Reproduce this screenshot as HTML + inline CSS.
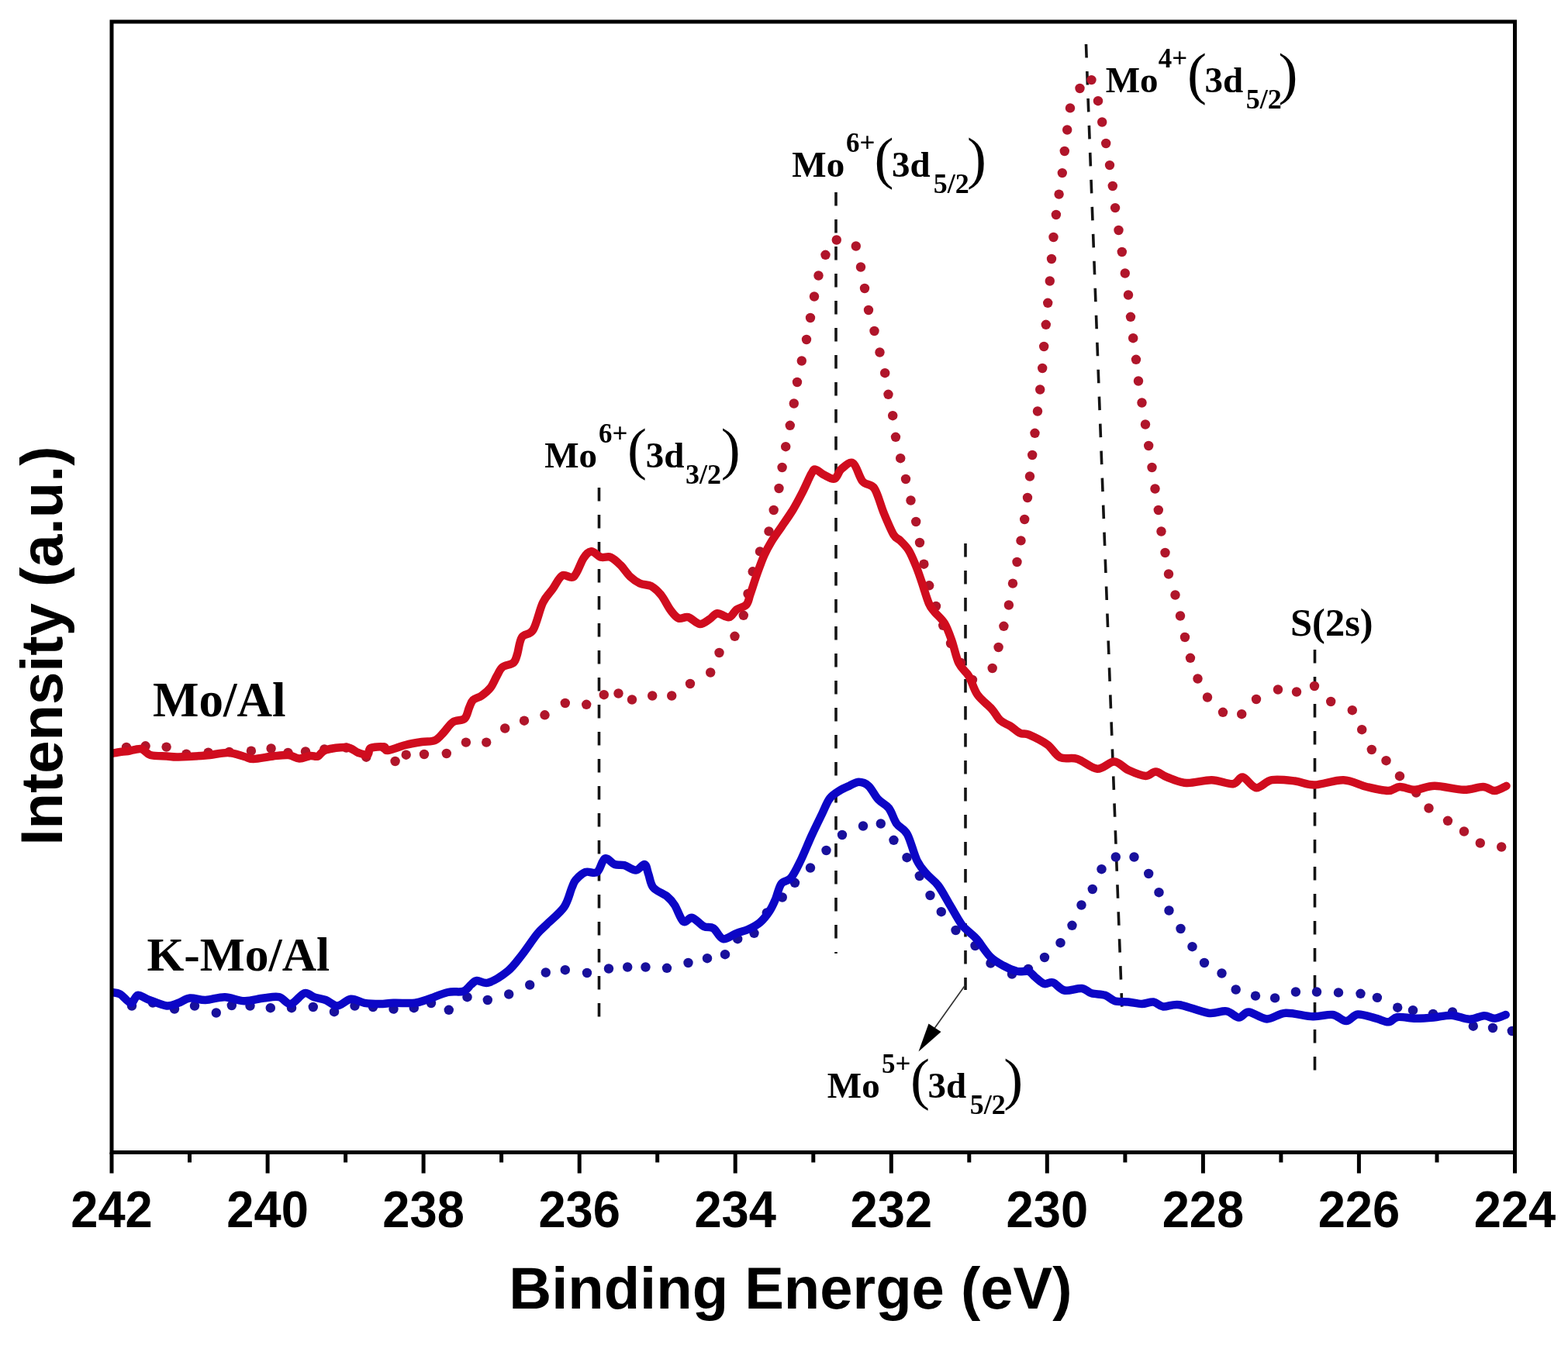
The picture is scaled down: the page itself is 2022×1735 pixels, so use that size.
<!DOCTYPE html>
<html><head><meta charset="utf-8"><title>XPS Mo 3d</title>
<style>html,body{margin:0;padding:0;background:#fff;}body{width:2022px;height:1735px;overflow:hidden;}svg{display:block;}.ax{font-family:"Liberation Sans",Arial,sans-serif;font-weight:bold;fill:#000;}.tm{font-family:"Liberation Serif","Times New Roman",serif;font-weight:bold;fill:#000;}.tr{font-family:"Liberation Serif","Times New Roman",serif;font-weight:normal;fill:#000;}</style></head><body>
<svg width="2022" height="1735" viewBox="0 0 2022 1735">
<rect x="0" y="0" width="2022" height="1735" fill="#fff"/>
<g stroke="#141414" stroke-width="3.6" stroke-dasharray="17.5 17.5" fill="none">
<line x1="772.5" y1="629" x2="772.5" y2="1315"/>
<line x1="1078" y1="248" x2="1078" y2="1230"/>
<line x1="1245" y1="701" x2="1245" y2="1277"/>
<line x1="1400.5" y1="57" x2="1447" y2="1304"/>
<line x1="1695.5" y1="838" x2="1695.5" y2="1381"/>
</g>
<line x1="1244.5" y1="1271" x2="1204" y2="1328" stroke="#333" stroke-width="1.7"/>
<polygon points="1184.5,1356.5 1197.5,1320.5 1213.5,1331" fill="#000"/>
<defs><clipPath id="pc"><rect x="143" y="29" width="1810" height="1456"/></clipPath></defs>
<g clip-path="url(#pc)">
<g fill="#b0152a">
<circle cx="163" cy="964" r="6.2"/>
<circle cx="187.6" cy="962.3" r="6.2"/>
<circle cx="214.6" cy="963.6" r="6.2"/>
<circle cx="240.3" cy="972.6" r="6.2"/>
<circle cx="268.6" cy="970.6" r="6.2"/>
<circle cx="295.6" cy="970" r="6.2"/>
<circle cx="323.9" cy="968.7" r="6.2"/>
<circle cx="349.6" cy="965.5" r="6.2"/>
<circle cx="371.4" cy="971" r="6.2"/>
<circle cx="394" cy="969.4" r="6.2"/>
<circle cx="418.3" cy="966.4" r="6.2"/>
<circle cx="446.6" cy="964.5" r="6.2"/>
<circle cx="472.3" cy="976.7" r="6.2"/>
<circle cx="495.4" cy="964.5" r="6.2"/>
<circle cx="509.6" cy="982" r="6.2"/>
<circle cx="523.7" cy="973.7" r="6.2"/>
<circle cx="547" cy="973" r="6.2"/>
<circle cx="575.8" cy="972" r="6.2"/>
<circle cx="600.9" cy="957.6" r="6.2"/>
<circle cx="627.2" cy="957.6" r="6.2"/>
<circle cx="651.2" cy="939.5" r="6.2"/>
<circle cx="676" cy="929.7" r="6.2"/>
<circle cx="702.5" cy="922.3" r="6.2"/>
<circle cx="728.8" cy="907" r="6.2"/>
<circle cx="756.2" cy="908.8" r="6.2"/>
<circle cx="778.8" cy="896.2" r="6.2"/>
<circle cx="797.5" cy="894.5" r="6.2"/>
<circle cx="815" cy="902.5" r="6.2"/>
<circle cx="841.2" cy="897.5" r="6.2"/>
<circle cx="866.2" cy="897.5" r="6.2"/>
<circle cx="890" cy="882" r="6.2"/>
<circle cx="916.2" cy="867.5" r="6.2"/>
<circle cx="927.5" cy="842" r="6.2"/>
<circle cx="947.5" cy="820.8" r="6.2"/>
<circle cx="958.8" cy="793.8" r="6.2"/>
<circle cx="964.5" cy="766" r="6.2"/>
<circle cx="970.7" cy="737.3" r="6.2"/>
<circle cx="980" cy="711.4" r="6.2"/>
<circle cx="991.5" cy="685.4" r="6.2"/>
<circle cx="997.7" cy="658" r="6.2"/>
<circle cx="1004.5" cy="630" r="6.2"/>
<circle cx="1008.6" cy="603" r="6.2"/>
<circle cx="1013.2" cy="576.2" r="6.2"/>
<circle cx="1018.8" cy="548.8" r="6.2"/>
<circle cx="1023.8" cy="520.5" r="6.2"/>
<circle cx="1028" cy="493" r="6.2"/>
<circle cx="1033.8" cy="465.5" r="6.2"/>
<circle cx="1040" cy="438" r="6.2"/>
<circle cx="1045" cy="410" r="6.2"/>
<circle cx="1050" cy="382.5" r="6.2"/>
<circle cx="1055.5" cy="355.5" r="6.2"/>
<circle cx="1064.5" cy="328.8" r="6.2"/>
<circle cx="1078.8" cy="309.5" r="6.2"/>
<circle cx="1103.8" cy="317.5" r="6.2"/>
<circle cx="1110" cy="344.5" r="6.2"/>
<circle cx="1115" cy="372" r="6.2"/>
<circle cx="1120" cy="400" r="6.2"/>
<circle cx="1127.5" cy="427" r="6.2"/>
<circle cx="1134.5" cy="454.5" r="6.2"/>
<circle cx="1141.2" cy="481.2" r="6.2"/>
<circle cx="1145.5" cy="508.8" r="6.2"/>
<circle cx="1151.2" cy="536.2" r="6.2"/>
<circle cx="1155" cy="563.8" r="6.2"/>
<circle cx="1161.2" cy="591.2" r="6.2"/>
<circle cx="1168" cy="618" r="6.2"/>
<circle cx="1174.5" cy="645.5" r="6.2"/>
<circle cx="1181.2" cy="673" r="6.2"/>
<circle cx="1186" cy="700" r="6.2"/>
<circle cx="1191.4" cy="727.7" r="6.2"/>
<circle cx="1198.2" cy="755.3" r="6.2"/>
<circle cx="1207" cy="782" r="6.2"/>
<circle cx="1216.2" cy="806.8" r="6.2"/>
<circle cx="1226" cy="830" r="6.2"/>
<circle cx="1239" cy="855" r="6.2"/>
<circle cx="1254" cy="877" r="6.2"/>
<circle cx="1279.7" cy="862" r="6.2"/>
<circle cx="1287.6" cy="835" r="6.2"/>
<circle cx="1294.4" cy="807.8" r="6.2"/>
<circle cx="1300.9" cy="780.5" r="6.2"/>
<circle cx="1306" cy="752.6" r="6.2"/>
<circle cx="1311.5" cy="725" r="6.2"/>
<circle cx="1316.5" cy="697.4" r="6.2"/>
<circle cx="1321.2" cy="670" r="6.2"/>
<circle cx="1325" cy="642" r="6.2"/>
<circle cx="1328" cy="614.5" r="6.2"/>
<circle cx="1331.2" cy="587" r="6.2"/>
<circle cx="1334.5" cy="558.8" r="6.2"/>
<circle cx="1338" cy="530.5" r="6.2"/>
<circle cx="1341.2" cy="502.5" r="6.2"/>
<circle cx="1344.2" cy="475" r="6.2"/>
<circle cx="1346.2" cy="447" r="6.2"/>
<circle cx="1348.8" cy="418.8" r="6.2"/>
<circle cx="1351.2" cy="390.8" r="6.2"/>
<circle cx="1353.8" cy="362.5" r="6.2"/>
<circle cx="1356" cy="334" r="6.2"/>
<circle cx="1358.5" cy="306" r="6.2"/>
<circle cx="1361.9" cy="277" r="6.2"/>
<circle cx="1365.6" cy="250.6" r="6.2"/>
<circle cx="1369.8" cy="223.1" r="6.2"/>
<circle cx="1372.8" cy="195" r="6.2"/>
<circle cx="1376.2" cy="167.5" r="6.2"/>
<circle cx="1380" cy="139.4" r="6.2"/>
<circle cx="1392.5" cy="114" r="6.2"/>
<circle cx="1407.5" cy="103.1" r="6.2"/>
<circle cx="1416" cy="130.2" r="6.2"/>
<circle cx="1421.2" cy="157.5" r="6.2"/>
<circle cx="1426.2" cy="185" r="6.2"/>
<circle cx="1431" cy="213.1" r="6.2"/>
<circle cx="1434.8" cy="240" r="6.2"/>
<circle cx="1438.1" cy="268.1" r="6.2"/>
<circle cx="1442.5" cy="297" r="6.2"/>
<circle cx="1446.8" cy="325" r="6.2"/>
<circle cx="1450.8" cy="352.5" r="6.2"/>
<circle cx="1455" cy="380.5" r="6.2"/>
<circle cx="1458" cy="408.8" r="6.2"/>
<circle cx="1461.2" cy="436.2" r="6.2"/>
<circle cx="1465" cy="463.8" r="6.2"/>
<circle cx="1468" cy="491.5" r="6.2"/>
<circle cx="1472.5" cy="519.5" r="6.2"/>
<circle cx="1477" cy="547.5" r="6.2"/>
<circle cx="1481.2" cy="575" r="6.2"/>
<circle cx="1485.5" cy="603" r="6.2"/>
<circle cx="1489.5" cy="630.5" r="6.2"/>
<circle cx="1493.8" cy="658" r="6.2"/>
<circle cx="1497.5" cy="685.5" r="6.2"/>
<circle cx="1502.5" cy="713" r="6.2"/>
<circle cx="1507" cy="740.5" r="6.2"/>
<circle cx="1515.5" cy="767.5" r="6.2"/>
<circle cx="1522" cy="794.5" r="6.2"/>
<circle cx="1528" cy="822" r="6.2"/>
<circle cx="1535" cy="848.8" r="6.2"/>
<circle cx="1544.5" cy="875.5" r="6.2"/>
<circle cx="1557" cy="899.5" r="6.2"/>
<circle cx="1577" cy="918.8" r="6.2"/>
<circle cx="1601.2" cy="921.2" r="6.2"/>
<circle cx="1620" cy="902" r="6.2"/>
<circle cx="1648" cy="889.5" r="6.2"/>
<circle cx="1672" cy="892.5" r="6.2"/>
<circle cx="1695" cy="885" r="6.2"/>
<circle cx="1716.2" cy="905" r="6.2"/>
<circle cx="1743.8" cy="916.2" r="6.2"/>
<circle cx="1756.2" cy="941.2" r="6.2"/>
<circle cx="1768.8" cy="967" r="6.2"/>
<circle cx="1787.5" cy="981.2" r="6.2"/>
<circle cx="1805" cy="1001.2" r="6.2"/>
<circle cx="1826.2" cy="1022.5" r="6.2"/>
<circle cx="1842.5" cy="1042.5" r="6.2"/>
<circle cx="1867" cy="1058.8" r="6.2"/>
<circle cx="1888" cy="1072.5" r="6.2"/>
<circle cx="1908.8" cy="1087.5" r="6.2"/>
<circle cx="1936.2" cy="1092.5" r="6.2"/>
</g>
<path d="M144,972C145.8,971.7 151.5,970.5 155,970C158.5,969.5 160.5,969.7 165,969C169.5,968.3 177.2,965.2 182,966C186.8,966.8 188.5,972.4 194,974C199.5,975.6 209,975.1 215,975.5C221,975.9 221.7,976.7 230,976.5C238.3,976.3 254.3,975.4 265,974.5C275.7,973.6 285.7,970.8 294,971C302.3,971.2 309.5,974.7 315,976C320.5,977.3 320.8,979.1 327,979C333.2,978.9 344.5,976.3 352,975.5C359.5,974.7 366.3,973.5 372,974C377.7,974.5 381.3,978.3 386,978.5C390.7,978.7 396,975.5 400,975C404,974.5 406.7,976.8 410,975.5C413.3,974.2 413.8,969.4 420,967.5C426.2,965.6 440,963.4 447,964C454,964.6 457.5,969.4 462,971C466.5,972.6 471.3,974.5 474,973.5C476.7,972.5 474.5,966.7 478,965C481.5,963.3 491.3,963 495,963.5C498.7,964 495.3,968.4 500,968C504.7,967.6 515.7,962.8 523,961C530.3,959.2 537.7,958 544,957C550.3,956 556.3,957 561,955C565.7,953 568.2,948.9 572,945C575.8,941.1 579.5,934.5 584,931.5C588.5,928.5 595.5,930.1 599,927C602.5,923.9 603.2,917 605,913C606.8,909 607.3,905.6 610,903C612.7,900.4 617.2,900.2 621,897.5C624.8,894.8 629.3,891.2 632.6,887C635.9,882.8 638.1,876.4 640.7,872C643.3,867.6 644.5,863.3 648,860.5C651.5,857.7 658.8,857.8 662,855C665.2,852.2 665.2,849.5 667,844C668.8,838.5 669.6,827.2 673,822C676.4,816.8 683,819.9 687.5,812.5C692,805.1 695.8,786.2 700,777.5C704.2,768.8 708.3,765.8 712.5,760C716.7,754.2 720.4,745.2 725,742.5C729.6,739.8 735.4,747.5 740,743.8C744.6,740 748.8,725.4 752.5,720C756.2,714.6 758.8,711.5 762.5,711.2C766.2,711 770.8,717.5 775,718.8C779.2,720 783.3,717.1 787.5,718.8C791.7,720.4 795.8,724.6 800,728.8C804.2,732.9 808.3,739.8 812.5,743.8C816.7,747.7 820.4,750.4 825,752.5C829.6,754.6 835.4,753.8 840,756.2C844.6,758.8 848.3,762.3 852.5,767.5C856.7,772.7 861.2,782.5 865,787.5C868.8,792.5 871.2,796 875,797.5C878.8,799 882.9,795 887.5,796.2C892.1,797.5 897.9,804.6 902.5,805C907.1,805.4 911.2,801 915,798.8C918.8,796.5 920.8,791.7 925,791.2C929.2,790.8 935.8,797.1 940,796.2C944.2,795.4 946.2,789 950,786.2C953.8,783.5 959.6,783.3 962.5,780C965.4,776.7 965.2,773.4 967.6,766.4C970,759.4 974,746.6 977,738.3C980,730 982.4,723.2 985.3,716.6C988.2,710 990.8,705.1 994.6,698.9C998.4,692.7 1003.3,686.1 1008,679.2C1012.7,672.3 1018.1,664.8 1022.6,657.4C1027.1,650 1031,642.4 1035,634.6C1039,626.8 1043.7,615.5 1046.5,610.7C1049.3,605.9 1049,605.3 1051.7,605.6C1054.4,605.9 1058.4,610.5 1062.5,612.5C1066.6,614.5 1072.5,618.8 1076.2,617.5C1080,616.2 1081,608.3 1085,605C1089,601.7 1095.4,594.8 1100,597.5C1104.6,600.2 1107.9,615.8 1112.5,621.2C1117.1,626.7 1122.9,623.1 1127.5,630C1132.1,636.9 1135.8,652.5 1140,662.5C1144.2,672.5 1149,684.2 1152.5,690C1156,695.8 1157.8,694 1161,697.4C1164.2,700.8 1168.6,704.7 1172,710.2C1175.4,715.7 1178.5,723.8 1181.3,730.5C1184.1,737.2 1185.8,742.7 1188.6,750.7C1191.3,758.7 1195,771.8 1197.8,778.3C1200.6,784.8 1201.8,785.1 1205.2,789.4C1208.6,793.7 1214.3,797.9 1218,804C1221.7,810.1 1224.2,817.6 1227.3,826.2C1230.4,834.8 1232.8,847.9 1236.5,855.6C1240.2,863.3 1245.4,865.5 1249.4,872.2C1253.4,878.9 1255.5,889 1260.4,896C1265.3,903 1273.9,909 1278.8,914.5C1283.7,920 1285.8,925.5 1289.8,929.2C1293.8,932.9 1298.4,933.8 1302.7,936.5C1307,939.2 1311.6,943.9 1315.6,945.7C1319.6,947.6 1320.8,945.1 1326.6,947.6C1332.4,950.1 1343.8,955.6 1350.6,960.5C1357.3,965.4 1360.7,973.9 1367.1,977C1373.5,980.1 1381.2,976.4 1389.2,978.9C1397.2,981.4 1407,991.1 1415,991.7C1423,992.3 1430.3,982.2 1437,982.5C1443.7,982.8 1448.7,990.5 1455.4,993.6C1462.2,996.7 1471.7,1000.7 1477.5,1001C1483.3,1001.3 1485.8,995.1 1490.4,995.4C1495,995.6 1498.4,1000.1 1505,1002.5C1511.6,1004.9 1520.4,1009.4 1530,1010C1539.6,1010.6 1552.5,1006 1562.5,1006.2C1572.5,1006.5 1583.3,1011.9 1590,1011.2C1596.7,1010.6 1597.5,1001.7 1602.5,1002.5C1607.5,1003.3 1613.8,1015.6 1620,1016.2C1626.2,1016.9 1631.7,1007.7 1640,1006.2C1648.3,1004.8 1660.8,1006.5 1670,1007.5C1679.2,1008.5 1684.6,1012.7 1695,1012.5C1705.4,1012.3 1721.2,1005.8 1732.5,1006.2C1743.8,1006.7 1752.9,1012.7 1762.5,1015C1772.1,1017.3 1782.9,1020 1790,1020C1797.1,1020 1799.2,1015.2 1805,1015C1810.8,1014.8 1817.5,1019 1825,1018.8C1832.5,1018.5 1839.6,1013.8 1850,1013.8C1860.4,1013.8 1877.1,1018.5 1887.5,1018.8C1897.9,1019 1905.8,1014.8 1912.5,1015C1919.2,1015.2 1922.5,1020.2 1927.5,1020C1932.5,1019.8 1940,1014.8 1942.5,1013.8" fill="none" stroke="#d00c1e" stroke-width="10.5" stroke-linejoin="round" stroke-linecap="round"/>
<g fill="#18109c">
<circle cx="170" cy="1297.5" r="6.2"/>
<circle cx="197" cy="1293.5" r="6.2"/>
<circle cx="225" cy="1301.5" r="6.2"/>
<circle cx="251" cy="1297.5" r="6.2"/>
<circle cx="278.8" cy="1306.5" r="6.2"/>
<circle cx="298.8" cy="1297" r="6.2"/>
<circle cx="322.5" cy="1297.5" r="6.2"/>
<circle cx="348.8" cy="1300.2" r="6.2"/>
<circle cx="376" cy="1300.2" r="6.2"/>
<circle cx="403.8" cy="1299" r="6.2"/>
<circle cx="431" cy="1305.2" r="6.2"/>
<circle cx="457.5" cy="1297.5" r="6.2"/>
<circle cx="481" cy="1299" r="6.2"/>
<circle cx="507.5" cy="1301.5" r="6.2"/>
<circle cx="533.8" cy="1300.2" r="6.2"/>
<circle cx="556" cy="1294" r="6.2"/>
<circle cx="578.8" cy="1302.8" r="6.2"/>
<circle cx="602.5" cy="1286.2" r="6.2"/>
<circle cx="628.8" cy="1290" r="6.2"/>
<circle cx="656.2" cy="1282.5" r="6.2"/>
<circle cx="683.2" cy="1270.5" r="6.2"/>
<circle cx="703.8" cy="1254.5" r="6.2"/>
<circle cx="728.8" cy="1251.2" r="6.2"/>
<circle cx="757" cy="1255" r="6.2"/>
<circle cx="785" cy="1249.5" r="6.2"/>
<circle cx="809.2" cy="1247.5" r="6.2"/>
<circle cx="832.5" cy="1247.5" r="6.2"/>
<circle cx="860" cy="1248.8" r="6.2"/>
<circle cx="887.5" cy="1242" r="6.2"/>
<circle cx="912" cy="1236.2" r="6.2"/>
<circle cx="935" cy="1231.2" r="6.2"/>
<circle cx="951.2" cy="1211.2" r="6.2"/>
<circle cx="972.5" cy="1203.8" r="6.2"/>
<circle cx="988.8" cy="1177.5" r="6.2"/>
<circle cx="1008.8" cy="1157.5" r="6.2"/>
<circle cx="1025" cy="1138.8" r="6.2"/>
<circle cx="1045" cy="1119.5" r="6.2"/>
<circle cx="1065.5" cy="1097" r="6.2"/>
<circle cx="1086" cy="1077" r="6.2"/>
<circle cx="1113" cy="1065.5" r="6.2"/>
<circle cx="1135.8" cy="1062.5" r="6.2"/>
<circle cx="1152.5" cy="1083.8" r="6.2"/>
<circle cx="1169.5" cy="1106.2" r="6.2"/>
<circle cx="1185.8" cy="1130" r="6.2"/>
<circle cx="1199.5" cy="1155" r="6.2"/>
<circle cx="1213.8" cy="1176.2" r="6.2"/>
<circle cx="1232.5" cy="1200" r="6.2"/>
<circle cx="1257.5" cy="1220" r="6.2"/>
<circle cx="1277.5" cy="1242.5" r="6.2"/>
<circle cx="1305" cy="1256.5" r="6.2"/>
<circle cx="1326" cy="1250" r="6.2"/>
<circle cx="1347" cy="1235" r="6.2"/>
<circle cx="1367.5" cy="1216.2" r="6.2"/>
<circle cx="1382.5" cy="1193.8" r="6.2"/>
<circle cx="1394.5" cy="1167.5" r="6.2"/>
<circle cx="1408.8" cy="1147" r="6.2"/>
<circle cx="1420.5" cy="1121.2" r="6.2"/>
<circle cx="1438.8" cy="1105.5" r="6.2"/>
<circle cx="1462.5" cy="1105.5" r="6.2"/>
<circle cx="1481.2" cy="1127" r="6.2"/>
<circle cx="1494.5" cy="1151.2" r="6.2"/>
<circle cx="1507.5" cy="1174.5" r="6.2"/>
<circle cx="1522.5" cy="1198" r="6.2"/>
<circle cx="1537.5" cy="1221.2" r="6.2"/>
<circle cx="1553" cy="1242" r="6.2"/>
<circle cx="1575.5" cy="1255.5" r="6.2"/>
<circle cx="1593.7" cy="1276.5" r="6.2"/>
<circle cx="1619" cy="1284.6" r="6.2"/>
<circle cx="1644.1" cy="1287.4" r="6.2"/>
<circle cx="1670.9" cy="1279.5" r="6.2"/>
<circle cx="1698" cy="1279.5" r="6.2"/>
<circle cx="1726" cy="1280.4" r="6.2"/>
<circle cx="1754.5" cy="1281.8" r="6.2"/>
<circle cx="1775.9" cy="1286.9" r="6.2"/>
<circle cx="1802.2" cy="1299.7" r="6.2"/>
<circle cx="1822" cy="1303.2" r="6.2"/>
<circle cx="1848" cy="1308" r="6.2"/>
<circle cx="1873" cy="1305.5" r="6.2"/>
<circle cx="1899.8" cy="1323.7" r="6.2"/>
<circle cx="1925" cy="1326" r="6.2"/>
<circle cx="1949.8" cy="1330" r="6.2"/>
</g>
<path d="M144,1280C145.8,1280.4 150.9,1280.2 155,1282.5C159.1,1284.8 165,1293.5 168.8,1293.8C172.5,1294 174,1284.6 177.5,1283.8C181,1282.9 183.8,1286.5 190,1288.8C196.2,1291 208.3,1296.7 215,1297.5C221.7,1298.3 225,1295.4 230,1293.8C235,1292.1 239.2,1288.1 245,1287.5C250.8,1286.9 257.5,1290.2 265,1290C272.5,1289.8 281.7,1286 290,1286.2C298.3,1286.5 306.7,1291 315,1291.2C323.3,1291.5 332.5,1288.3 340,1287.5C347.5,1286.7 354.2,1285 360,1286.2C365.8,1287.5 369.6,1295.8 375,1295C380.4,1294.2 387.5,1282.7 392.5,1281.2C397.5,1279.8 400.4,1284.8 405,1286.2C409.6,1287.7 415,1288.1 420,1290C425,1291.9 429.6,1297.7 435,1297.5C440.4,1297.3 446.7,1289.4 452.5,1288.8C458.3,1288.1 463.8,1292.7 470,1293.8C476.2,1294.8 483.8,1295 490,1295C496.2,1295 500,1294 507.5,1293.8C515,1293.5 527.5,1294.6 535,1293.8C542.5,1292.9 545.4,1291 552.5,1288.8C559.6,1286.5 570,1281.7 577.5,1280C585,1278.3 592.5,1280.4 597.5,1278.8C602.5,1277.1 604.6,1272.3 607.5,1270C610.4,1267.7 611.2,1265.4 615,1265C618.8,1264.6 623.3,1269.6 630,1267.5C636.7,1265.4 647.9,1258.3 655,1252.5C662.1,1246.7 666.2,1240.4 672.5,1232.5C678.8,1224.6 687.1,1211.7 692.5,1205C697.9,1198.3 699.2,1198.3 705,1192.5C710.8,1186.7 722.1,1177.9 727.5,1170C732.9,1162.1 735,1150.8 737.5,1145C740,1139.2 739.6,1138.3 742.5,1135C745.4,1131.7 750.4,1126.7 755,1125C759.6,1123.3 765.8,1127.9 770,1125C774.2,1122.1 776.2,1109.2 780,1107.5C783.8,1105.8 788.3,1113.5 792.5,1115C796.7,1116.5 800.4,1115 805,1116.2C809.6,1117.5 815.6,1122.7 820,1122.5C824.4,1122.3 828.5,1114.2 831.2,1115C834,1115.8 834.4,1122.5 836.2,1127.5C838.1,1132.5 838.5,1140.2 842.5,1145C846.5,1149.8 855.4,1152.5 860,1156.2C864.6,1160 866.5,1162.1 870,1167.5C873.5,1172.9 877.5,1186 881.2,1188.8C885,1191.5 888.1,1182.7 892.5,1183.8C896.9,1184.8 902.9,1192.7 907.5,1195C912.1,1197.3 915.8,1194.8 920,1197.5C924.2,1200.2 927.5,1210.2 932.5,1211.2C937.5,1212.3 944.6,1205.8 950,1203.8C955.4,1201.7 960,1201 965,1198.8C970,1196.5 975.4,1194 980,1190C984.6,1186 989.2,1180 992.5,1175C995.8,1170 997.5,1165.8 1000,1160C1002.5,1154.2 1004.2,1144.6 1007.5,1140C1010.8,1135.4 1015.8,1137.5 1020,1132.5C1024.2,1127.5 1028,1119.2 1032.5,1110C1037,1100.8 1042.4,1087 1047,1077C1051.6,1067 1056.2,1057.8 1060,1050C1063.8,1042.2 1066.2,1035 1070,1030C1073.8,1025 1078.3,1022.7 1082.5,1020C1086.7,1017.3 1090.8,1015.6 1095,1013.8C1099.2,1011.9 1103.3,1008.8 1107.5,1008.8C1111.7,1008.8 1115.8,1010 1120,1013.8C1124.2,1017.5 1128.1,1026.5 1132.5,1031.2C1136.9,1036 1142.3,1037.3 1146.2,1042.5C1150.2,1047.7 1152.3,1056.9 1156.2,1062.5C1160.2,1068.1 1165.6,1068.3 1170,1076.2C1174.4,1084.2 1178.3,1101.5 1182.5,1110C1186.7,1118.5 1190.4,1122.1 1195,1127.5C1199.6,1132.9 1205,1135.8 1210,1142.5C1215,1149.2 1220,1159.2 1225,1167.5C1230,1175.8 1235.8,1186.7 1240,1192.5C1244.2,1198.3 1246.7,1199.2 1250,1202.5C1253.3,1205.8 1255.5,1206.7 1260,1212C1264.5,1217.3 1271.5,1228.9 1277.3,1234.6C1283.1,1240.3 1288.8,1242.9 1294.6,1246C1300.4,1249.1 1306.6,1251.8 1311.9,1253C1317.2,1254.2 1322.5,1251.8 1326.3,1253C1330.1,1254.2 1331.6,1257.8 1335,1260.5C1338.4,1263.2 1342.7,1267.8 1346.5,1269C1350.3,1270.2 1353.7,1266 1358,1267.4C1362.3,1268.8 1366.3,1276.2 1372.5,1277.5C1378.7,1278.8 1389.2,1274.4 1395,1275C1400.8,1275.6 1402.5,1279.8 1407.5,1281.2C1412.5,1282.7 1420,1282.1 1425,1283.8C1430,1285.4 1432.5,1289.8 1437.5,1291.2C1442.5,1292.7 1449.2,1291.9 1455,1292.5C1460.8,1293.1 1467.1,1295 1472.5,1295C1477.9,1295 1482.9,1291.9 1487.5,1292.5C1492.1,1293.1 1494.4,1297.9 1500,1298.5C1505.6,1299.1 1511.3,1294.8 1521,1296.2C1530.7,1297.6 1547.9,1305.3 1558,1306.7C1568.1,1308.1 1574.8,1303.4 1581.4,1304.4C1588,1305.4 1592.8,1312.3 1597.6,1312.5C1602.4,1312.7 1604.4,1305.2 1610.4,1305.5C1616.4,1305.8 1625.8,1314.2 1633.7,1314.4C1641.6,1314.6 1648.1,1307.2 1658,1306.7C1667.9,1306.2 1682.9,1310.9 1693,1311.3C1703.1,1311.7 1711.3,1308 1718.5,1309C1725.7,1310 1730.6,1317.2 1736,1317.1C1741.4,1317 1744.6,1309.1 1751,1308.5C1757.4,1307.9 1767.7,1312.1 1774.3,1313.7C1780.9,1315.3 1785.9,1318.6 1790.6,1318.3C1795.2,1318 1796.4,1312.8 1802.2,1312C1808,1311.2 1817.7,1313.6 1825.4,1313.7C1833.2,1313.8 1840.9,1313.2 1848.7,1312.5C1856.5,1311.8 1864.3,1309.3 1872,1309.7C1879.7,1310.1 1888,1314.7 1895,1314.8C1902,1314.9 1908.3,1310.4 1913.8,1310.2C1919.2,1310 1923,1313.9 1927.7,1313.7C1932.4,1313.5 1939.4,1309.8 1941.7,1309" fill="none" stroke="#0c06c6" stroke-width="10.5" stroke-linejoin="round" stroke-linecap="round"/>
</g>
<rect x="144" y="28" width="1809.5" height="1458.5" fill="none" stroke="#000" stroke-width="5"/>
<g stroke="#000" stroke-width="5"><line x1="144" y1="1486.5" x2="144" y2="1513.5"/><line x1="244.5" y1="1486.5" x2="244.5" y2="1499.5"/><line x1="345.1" y1="1486.5" x2="345.1" y2="1513.5"/><line x1="445.6" y1="1486.5" x2="445.6" y2="1499.5"/><line x1="546.1" y1="1486.5" x2="546.1" y2="1513.5"/><line x1="646.6" y1="1486.5" x2="646.6" y2="1499.5"/><line x1="747.2" y1="1486.5" x2="747.2" y2="1513.5"/><line x1="847.7" y1="1486.5" x2="847.7" y2="1499.5"/><line x1="948.2" y1="1486.5" x2="948.2" y2="1513.5"/><line x1="1048.8" y1="1486.5" x2="1048.8" y2="1499.5"/><line x1="1149.3" y1="1486.5" x2="1149.3" y2="1513.5"/><line x1="1249.8" y1="1486.5" x2="1249.8" y2="1499.5"/><line x1="1350.3" y1="1486.5" x2="1350.3" y2="1513.5"/><line x1="1450.9" y1="1486.5" x2="1450.9" y2="1499.5"/><line x1="1551.4" y1="1486.5" x2="1551.4" y2="1513.5"/><line x1="1651.9" y1="1486.5" x2="1651.9" y2="1499.5"/><line x1="1752.4" y1="1486.5" x2="1752.4" y2="1513.5"/><line x1="1853" y1="1486.5" x2="1853" y2="1499.5"/><line x1="1953.5" y1="1486.5" x2="1953.5" y2="1513.5"/></g>
<g class="ax" font-size="66" text-anchor="middle">
<text x="144" y="1582.5" textLength="105.5" lengthAdjust="spacingAndGlyphs">242</text>
<text x="345.1" y="1582.5" textLength="105.5" lengthAdjust="spacingAndGlyphs">240</text>
<text x="546.1" y="1582.5" textLength="105.5" lengthAdjust="spacingAndGlyphs">238</text>
<text x="747.2" y="1582.5" textLength="105.5" lengthAdjust="spacingAndGlyphs">236</text>
<text x="948.2" y="1582.5" textLength="105.5" lengthAdjust="spacingAndGlyphs">234</text>
<text x="1149.3" y="1582.5" textLength="105.5" lengthAdjust="spacingAndGlyphs">232</text>
<text x="1350.3" y="1582.5" textLength="105.5" lengthAdjust="spacingAndGlyphs">230</text>
<text x="1551.4" y="1582.5" textLength="105.5" lengthAdjust="spacingAndGlyphs">228</text>
<text x="1752.4" y="1582.5" textLength="105.5" lengthAdjust="spacingAndGlyphs">226</text>
<text x="1953.5" y="1582.5" textLength="105.5" lengthAdjust="spacingAndGlyphs">224</text>
</g>
<text class="ax" x="1019.4" y="1688" font-size="76" text-anchor="middle">Binding Energe (eV)</text>
<text class="ax" font-size="76" text-anchor="middle" transform="translate(79.5,833) rotate(-90)">Intensity (a.u.)</text>
<text class="tm" x="197" y="924" font-size="63">Mo/Al</text>
<text class="tm" x="189.5" y="1252" font-size="61.5">K-Mo/Al</text>
<text class="tm" x="1664" y="819.5" font-size="50.5">S(2s)</text>
<text class="tm" x="1425.7" y="118.8" font-size="47">Mo</text><text class="tm" x="1493.7" y="86.8" font-size="35">4+</text><text class="tr" x="1531" y="119.8" font-size="75">(</text><text class="tm" x="1553.6" y="118.8" font-size="47">3d</text><text class="tm" x="1606.8" y="139.8" font-size="36">5/2</text><text class="tr" x="1648.6" y="119.8" font-size="75">)</text>
<text class="tm" x="1021.3" y="228" font-size="47">Mo</text><text class="tm" x="1091" y="196" font-size="35">6+</text><text class="tr" x="1127.6" y="229" font-size="75">(</text><text class="tm" x="1150" y="228" font-size="47">3d</text><text class="tm" x="1203.7" y="249" font-size="36">5/2</text><text class="tr" x="1247" y="229" font-size="75">)</text>
<text class="tm" x="702.2" y="603.3" font-size="47">Mo</text><text class="tm" x="772" y="571.3" font-size="35">6+</text><text class="tr" x="809" y="604.3" font-size="75">(</text><text class="tm" x="832.7" y="603.3" font-size="47">3d</text><text class="tm" x="884" y="624.3" font-size="36">3/2</text><text class="tr" x="929.7" y="604.3" font-size="75">)</text>
<text class="tm" x="1066.8" y="1416.2" font-size="47">Mo</text><text class="tm" x="1137" y="1384.2" font-size="35">5+</text><text class="tr" x="1174" y="1417.2" font-size="75">(</text><text class="tm" x="1196.4" y="1416.2" font-size="47">3d</text><text class="tm" x="1250.8" y="1437.2" font-size="36">5/2</text><text class="tr" x="1294.3" y="1417.2" font-size="75">)</text>
</svg></body></html>
